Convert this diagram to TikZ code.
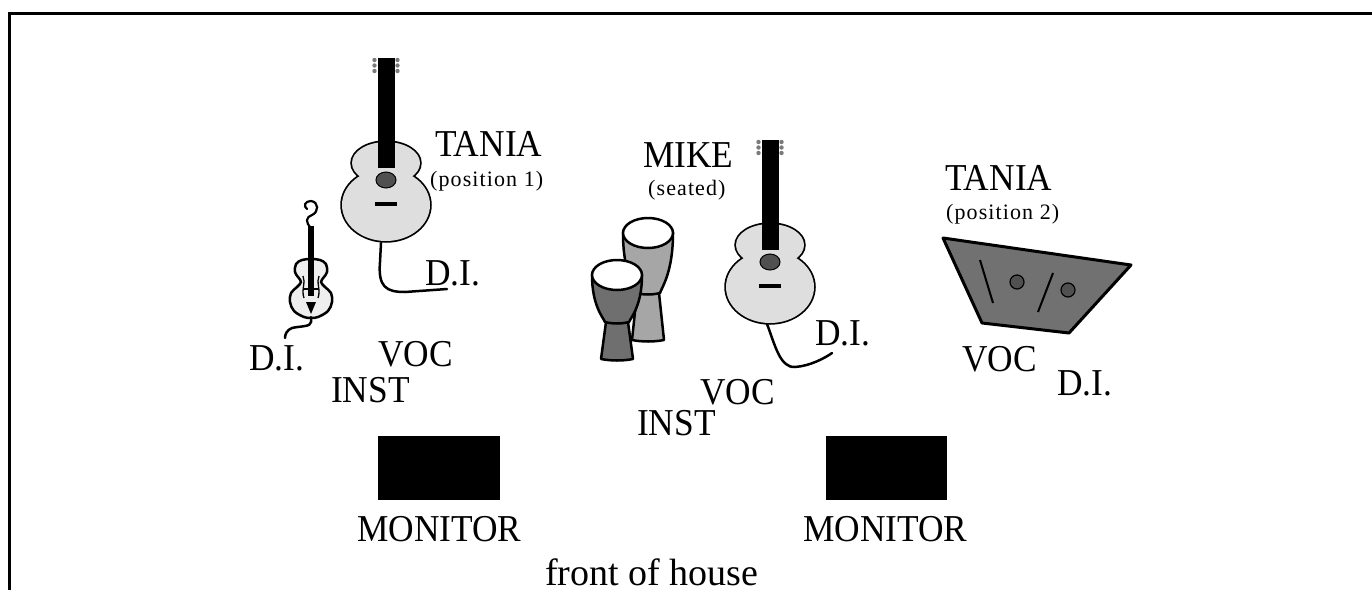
\documentclass[tikz,border=0pt]{standalone}
\usepackage{fontspec}
\setmainfont{Liberation Serif}
\newfontfamily\bigf[FakeStretch=0.93]{Liberation Serif}
\newfontfamily\smallf[LetterSpace=5]{Liberation Serif}
\definecolor{bodygray}{HTML}{DEDEDE}
\definecolor{violgray}{HTML}{EEEEEE}
\definecolor{backdrum}{HTML}{A6A6A6}
\definecolor{frontdrum}{HTML}{6F6F6F}
\definecolor{zgray}{HTML}{717171}
\definecolor{holegray}{HTML}{505050}
\definecolor{peggray}{HTML}{7A7A7A}
\tikzset{
  lab/.style={font=\bigf\fontsize{38}{40}\selectfont, inner sep=0pt, anchor=base west},
  sml/.style={font=\smallf\fontsize{22}{24}\selectfont, inner sep=0pt, anchor=base west},
  cable/.style={line width=2.5pt, line cap=round, line join=round},
  guitar/.pic={
    \draw[line width=3.5pt] (0,-17) ellipse[x radius=34pt, y radius=21pt];
    \draw[line width=3.5pt] (0,25) ellipse[x radius=44pt, y radius=36pt];
    \fill[bodygray] (0,-17) ellipse[x radius=34pt, y radius=21pt];
    \fill[bodygray] (0,25) ellipse[x radius=44pt, y radius=36pt];
    \fill[black] (-8.5,-122) rectangle (8.5,-12);
    \foreach \yy in {-120,-114.5,-109}{
      \fill[peggray] (-11.5,\yy) circle[radius=2.2pt];
      \fill[peggray] (11.5,\yy) circle[radius=2.2pt];
    }
    \filldraw[fill=holegray, line width=1pt] (0,0) ellipse[x radius=10pt, y radius=8pt];
    \fill[black] (-11,22) rectangle (11,26);
  },
  pics/djembe/.style n args={3}{code={
    \filldraw[fill=#1, line width=2.5pt, line join=round]
      (-11,#2) -- (-16,#2+#3) .. controls (-6,#2+#3+2) and (6,#2+#3+2) .. (16,#2+#3) -- (11,#2) -- cycle;
    \filldraw[fill=#1, line width=2.5pt, line join=round]
      (-25,0) .. controls (-25,#2*0.65) and (-14,#2*0.9) .. (-12,#2)
      .. controls (-4,#2+2) and (4,#2+2) .. (12,#2)
      .. controls (14,#2*0.9) and (25,#2*0.65) .. (25,0) -- cycle;
    \filldraw[fill=white, line width=2.5pt] (0,0) ellipse[x radius=25pt, y radius=15pt];
  }}
}
\begin{document}
\begin{tikzpicture}[x=1pt, y=-1pt]
\useasboundingbox (0,0) rectangle (1372,589);
% frame
\draw[line width=3pt] (9,590) -- (9,13) -- (1373,13);

% ---- guitar 1 (Tania position 1)
\pic at (386,180) {guitar};
\draw[cable] (381,243) -- (380,262) .. controls (378,287) and (386,292) .. (405,292) -- (447,289);

% ---- violin
\draw[line width=2.2pt, line cap=round] (311,228) .. controls (305,222) and (306,217) .. (312,215)
  .. controls (319,212) and (319,202) .. (311,201) .. controls (305,201) and (303,206) .. (307,209);
\filldraw[fill=violgray, line width=2.5pt, line join=round] plot[smooth cycle, tension=0.6] coordinates {
  (311,259) (320,260) (326,264) (327,272) (324,277) (321,282) (325,287) (331,293) (332,302) (328,311) (318,317) (311,318)
  (304,317) (294,311) (290,302) (291,293) (297,287) (301,282) (298,277) (295,272) (296,264) (302,260)};
\fill[black] (308,226) rectangle (314,296);
\draw[line width=1.3pt] (303,276) .. controls (306,282) and (301,290) .. (304,298);
\draw[line width=1.3pt] (319,276) .. controls (316,282) and (321,290) .. (318,298);
\draw[line width=1.3pt] (304,289) -- (318,289);
\fill[black] (306,302) -- (316,302) -- (311,314) -- cycle;
\draw[cable] (311,317) -- (311,322) .. controls (311,327) and (300,326) .. (292,328) .. controls (287,330) and (285,334) .. (285,338);

% ---- djembes
\pic at (648,233) {djembe={backdrum}{60}{47}};
\pic at (617,275) {djembe={frontdrum}{47}{37}};

% ---- guitar 2 (Mike)
\pic at (770,262) {guitar};
\draw[cable] (767,324) .. controls (775,345) and (780,368) .. (795,367) .. controls (810,366) and (825,358) .. (832,353);

% ---- zither (Tania position 2)
\filldraw[fill=zgray, line width=3pt, line join=round] (943,238) -- (1131,265) -- (1069,333) -- (982,323) -- cycle;
\draw[line width=2pt] (980,260) -- (993,303);
\draw[line width=2pt] (1053,273) -- (1038,312);
\filldraw[fill=holegray, line width=1.2pt] (1017,282) circle[radius=7pt];
\filldraw[fill=holegray, line width=1.2pt] (1068,290) circle[radius=7pt];

% ---- monitors
\fill[black] (378,436) rectangle (500,500);
\fill[black] (826,436) rectangle (947,500);

% ---- labels
\node[lab] (tania1) at (435,156) {TANIA};
\node[sml] (pos1) at (430,186) {(position 1)};
\node[lab] (di1) at (425,285) {D.I.};
\node[lab] (di0) at (249,370) {D.I.};
\node[lab] (voc1) at (378,366) {VOC};
\node[lab] (inst1) at (331,402) {INST};
\node[lab] (mike) at (643,167) {MIKE};
\node[sml] (seated) at (648,195) {(seated)};
\node[lab] (di2) at (815,345) {D.I.};
\node[lab] (voc2) at (700,404) {VOC};
\node[lab] (inst2) at (637,435) {INST};
\node[lab] (tania2) at (945,190) {TANIA};
\node[sml] (pos2) at (946,219) {(position 2)};
\node[lab] (voc3) at (962,371) {VOC};
\node[lab] (di3) at (1057,395) {D.I.};
\node[lab] (mon1) at (357,541) {MONITOR};
\node[lab] (mon2) at (803,541) {MONITOR};
\node[lab, font=\fontsize{38}{40}\selectfont, text depth=0pt] (foh) at (545,585) {front of house};
\end{tikzpicture}
\end{document}
